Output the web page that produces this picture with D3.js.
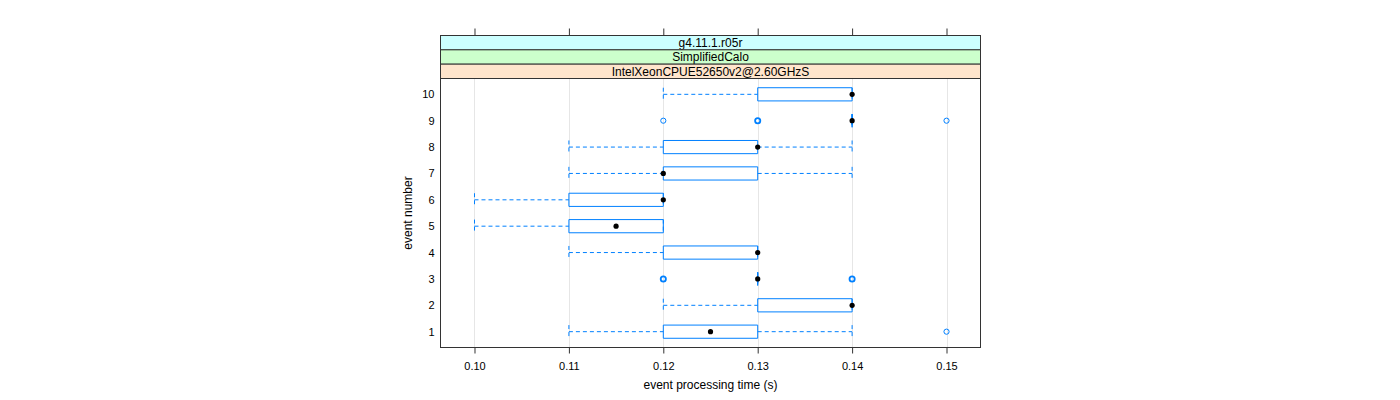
<!DOCTYPE html>
<html><head><meta charset="utf-8">
<script src="https://cdn.jsdelivr.net/npm/d3@7"></script>
<style>body{margin:0;background:#fff}svg{display:block}text{font-family:"Liberation Sans",Arial,sans-serif}</style>
</head><body><svg id="c" width="1400" height="400"></svg>
<script>
const events = [1,2,3,4,5,6,7,8,9,10];
const lowWhisker = [0.11,0.12,0.13,0.11,0.10,0.10,0.11,0.11,0.14,0.12];
const q1 =         [0.12,0.13,0.13,0.12,0.11,0.11,0.12,0.12,0.14,0.13];
const medians =    [0.125,0.14,0.13,0.13,0.115,0.12,0.12,0.13,0.14,0.14];
const q3 =         [0.13,0.14,0.13,0.13,0.12,0.12,0.13,0.13,0.14,0.14];
const highWhisker =[0.14,0.14,0.13,0.13,0.12,0.12,0.14,0.14,0.14,0.14];
const outliers = [
  {event:1, value:0.15, count:1},
  {event:3, value:0.12, count:3},
  {event:3, value:0.14, count:3},
  {event:9, value:0.12, count:1},
  {event:9, value:0.13, count:3},
  {event:9, value:0.15, count:1}
];
const xTicks = [0.10,0.11,0.12,0.13,0.14,0.15];
const strips = [
  {label:"g4.11.1.r05r", color:"#ccffff"},
  {label:"SimplifiedCalo", color:"#ccffcc"},
  {label:"IntelXeonCPUE52650v2@2.60GHzS", color:"#ffe5cc"}
];

(function(){
const svg = d3.select("#c");
const L=440.5, R=980.5, T=78.5, B=347.5;
const x = d3.scaleLinear().domain([0.0964,0.1536]).range([L,R]);
const y = d3.scaleLinear().domain([0.4,10.6]).range([B,T]);
const blue="#0080ff";
const half = 0.25*(y(0)-y(1));

// grid
svg.append("g").selectAll("line").data(xTicks).join("line")
  .attr("x1",d=>Math.round(x(d))+0.5).attr("x2",d=>Math.round(x(d))+0.5)
  .attr("y1",T).attr("y2",B).attr("stroke","#e6e6e6");

// strips
const stripTop=35.5, sh=(T-stripTop)/3;
strips.forEach((s,i)=>{
  svg.append("rect").attr("x",L).attr("y",stripTop+i*sh).attr("width",R-L).attr("height",sh)
    .attr("fill",s.color).attr("stroke","#333");
  svg.append("text").attr("x",(L+R)/2).attr("y",stripTop+i*sh+sh/2+4.2)
    .attr("text-anchor","middle").attr("font-size",12).attr("fill","#000").text(s.label);
});

// axes
const bottomAxis = d3.axisBottom(x).tickValues(xTicks).tickFormat(d3.format(".2f")).tickSize(6).tickPadding(9);
const gb = svg.append("g").attr("transform",`translate(0,${B})`).call(bottomAxis);
gb.select(".domain").remove();
gb.selectAll(".tick line").attr("stroke","#333");
gb.selectAll("text").attr("font-size",11).attr("font-family","Liberation Sans, Arial, sans-serif").attr("fill","#000");
const topAxis = d3.axisTop(x).tickValues(xTicks).tickFormat("").tickSize(7);
const gt = svg.append("g").attr("transform",`translate(0,${stripTop})`).call(topAxis);
gt.select(".domain").remove();
gt.selectAll(".tick line").attr("stroke","#333");

const leftAxis = d3.axisLeft(y).tickValues(events).tickFormat(d3.format("d")).tickSize(0).tickPadding(6);
const gl = svg.append("g").attr("transform",`translate(${L},0)`).call(leftAxis);
gl.select(".domain").remove();
gl.selectAll("text").attr("font-size",11).attr("font-family","Liberation Sans, Arial, sans-serif").attr("fill","#000");

// panel border
svg.append("rect").attr("x",L).attr("y",T).attr("width",R-L).attr("height",B-T)
  .attr("fill","none").attr("stroke","#333");

// boxes
const g = svg.append("g");
events.forEach((e,i)=>{
  const cy = y(e);
  const dash = "4,3";
  if (lowWhisker[i] < q1[i]) {
    g.append("line").attr("x1",x(lowWhisker[i])).attr("x2",x(q1[i])).attr("y1",cy).attr("y2",cy)
      .attr("stroke",blue).attr("stroke-dasharray",dash);
  }
  if (highWhisker[i] > q3[i]) {
    g.append("line").attr("x1",x(q3[i])).attr("x2",x(highWhisker[i])).attr("y1",cy).attr("y2",cy)
      .attr("stroke",blue).attr("stroke-dasharray",dash);
  }
  [lowWhisker[i], highWhisker[i]].forEach(v=>{
    g.append("line").attr("x1",x(v)).attr("x2",x(v)).attr("y1",cy-half).attr("y2",cy+half)
      .attr("stroke",blue).attr("stroke-dasharray",dash);
  });
  const x0=x(q1[i]), x1=x(q3[i]);
  g.append("path").attr("d",`M${x0},${cy-half}H${x1}V${cy+half}H${x0}Z`)
    .attr("fill","none").attr("stroke",blue);
  g.append("circle").attr("cx",x(medians[i])).attr("cy",cy).attr("r",2.6).attr("fill","#000");
});
g.selectAll("circle.out").data(outliers).join("circle").attr("class","out")
  .attr("cx",d=>x(d.value)).attr("cy",d=>y(d.event)).attr("r",2.6)
  .attr("fill","none").attr("stroke",blue).attr("stroke-width",d=>d.count>1?1.8:1);

svg.append("text").attr("x",(L+R)/2).attr("y",389).attr("text-anchor","middle")
  .attr("font-size",12).text("event processing time (s)");
svg.append("text").attr("transform",`translate(412,${(T+B)/2}) rotate(-90)`).attr("text-anchor","middle")
  .attr("font-size",12).text("event number");
})();
</script></body></html>
